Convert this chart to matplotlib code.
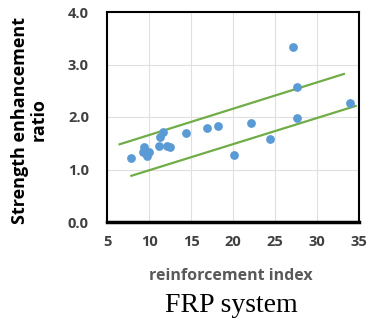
import matplotlib
matplotlib.use("Agg")
import matplotlib.pyplot as plt

# reinforcement index vs strength enhancement ratio
x_pts = [7.9, 9.4, 9.25, 9.8, 10.05, 11.35, 11.7, 11.2, 12.2, 12.5,
         14.4, 16.9, 18.25, 20.1, 22.2, 24.4, 27.2, 27.6, 27.6, 33.9]
y_pts = [1.22, 1.43, 1.34, 1.26, 1.34, 1.62, 1.72, 1.45, 1.45, 1.43,
         1.69, 1.80, 1.83, 1.28, 1.88, 1.59, 3.33, 2.57, 1.99, 2.27]

# bounding lines
upper_x = [6.5, 33.2]
upper_y = [1.48, 2.82]
lower_x = [7.9, 34.6]
lower_y = [0.88, 2.21]

xticks = [5, 10, 15, 20, 25, 30, 35]
yticks = [0.0, 1.0, 2.0, 3.0, 4.0]

fig = plt.figure(figsize=(3.68, 3.28), dpi=100)
ax = fig.add_axes([107/368, 1 - 222/328, 252/368, 210/328])

ax.plot(upper_x, upper_y, color="#70AD47", lw=1.6, zorder=2)
ax.plot(lower_x, lower_y, color="#70AD47", lw=1.6, zorder=2)
ax.scatter(x_pts, y_pts, s=40, color="#5B9BD5", zorder=3, linewidths=0)

ax.set_xlim(5, 35)
ax.set_ylim(0, 4)
ax.set_xticks(xticks)
ax.set_yticks(yticks)
ax.set_yticklabels(["%.1f" % v for v in yticks])
ax.grid(True, color="#E0E0E0", lw=0.8)
ax.set_axisbelow(True)
ax.tick_params(length=0, labelsize=10.5, labelcolor="#404040")
ax.tick_params(axis="y", pad=13)
ax.tick_params(axis="x", pad=9)
for lab in ax.get_xticklabels() + ax.get_yticklabels():
    lab.set_fontweight("bold")
    lab.set_family("Open Sans")

for side in ["top", "left", "right"]:
    ax.spines[side].set_linewidth(1.5)
ax.spines["bottom"].set_linewidth(2.5)

fig.text(231/368, 1 - 276/328, "reinforcement index", ha="center", va="center",
         fontsize=11.5, fontweight="bold", color="#595959", family="Open Sans")
fig.text(29/368, 1 - 120/328, "Strength enhancement\nratio", rotation=90,
         ha="center", va="center", fontsize=13, fontweight="bold",
         family="Open Sans", linespacing=1.05)
fig.text(231/368, 1 - 305/328, "FRP system", ha="center", va="center",
         fontsize=20, family="Liberation Serif")

fig.savefig("out.png", dpi=100)
